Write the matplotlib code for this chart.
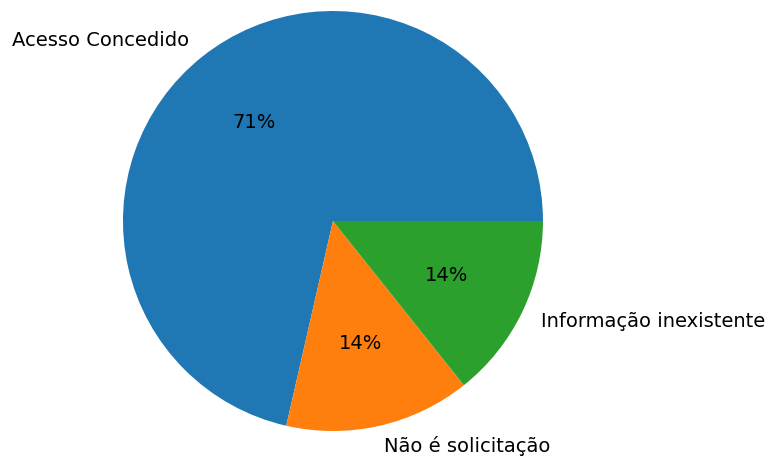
import matplotlib
matplotlib.use("Agg")
import matplotlib.pyplot as plt

labels = ["Acesso Concedido", "Não é solicitação", "Informação inexistente"]
counts = [5, 1, 1]

fig = plt.figure(figsize=(7.73, 4.59), dpi=100)
ax = fig.add_axes([0.1455, 0.0381, 0.5705, 0.9608])
ax.pie(counts, labels=labels, autopct="%1.0f%%", textprops={"fontsize": 14})
ax.set_xlim(-1.05, 1.05)
ax.set_ylim(-1.05, 1.05)
ax.set_aspect("equal")
fig.savefig("out.png", dpi=100)
